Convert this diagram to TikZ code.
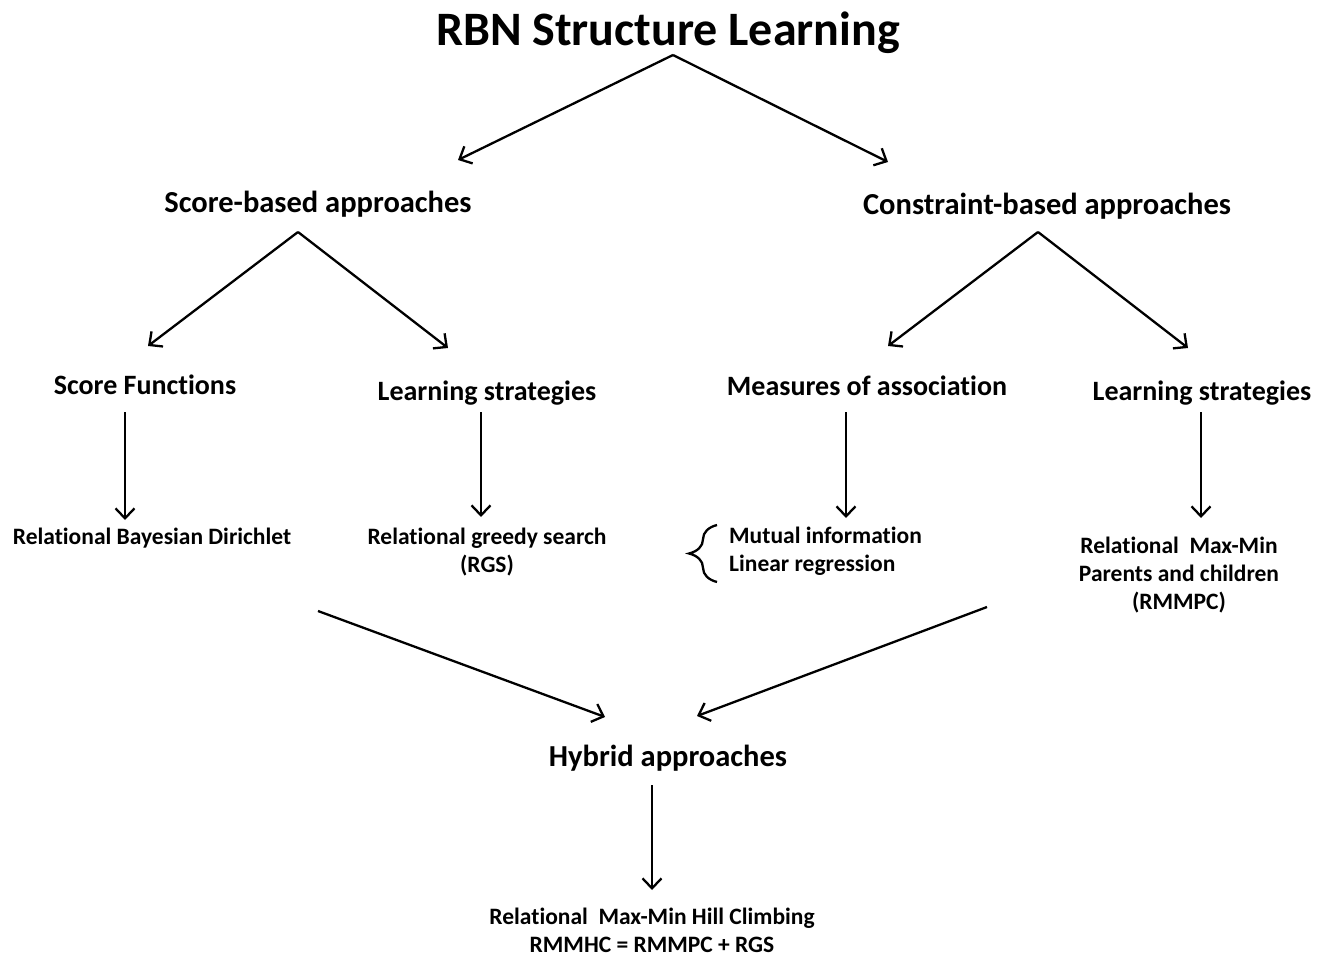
\documentclass[tikz,border=0pt]{standalone}
\usepackage{fontspec}
\setmainfont{Carlito}[Ligatures=NoCommon]
\usetikzlibrary{arrows.meta,decorations.pathreplacing}

\begin{document}
\begin{tikzpicture}[x=1pt,y=-1pt,
   arr/.style={line width=2.3pt, -{Straight Barb[length=10pt,width=19pt,line width=2.3pt]}},
   ttl/.style={inner sep=0pt, font=\fontsize{48}{54}\selectfont\bfseries},
   lvla/.style={inner sep=0pt, font=\fontsize{30.5}{34}\selectfont\bfseries},
   lvlb/.style={inner sep=0pt, font=\fontsize{28}{32}\selectfont\bfseries},
   lvlc/.style={inner sep=0pt, align=center, font=\fontsize{23.5}{28}\selectfont\bfseries}]

   \useasboundingbox (0,0) rectangle (1325,957);

% titre et approches
   \node[ttl] (title) at (668,33) {RBN Structure Learning};
   \node[lvla] (score) at (318,204) {Score-based approaches};
   \node[lvla] (constr) at (1047,206) {Constraint-based approaches};
   \node[lvla] (hybrid) at (668,758) {Hybrid approaches};

% second niveau
   \node[lvlb] (sfun) at (145,385) {Score Functions};
   \node[lvlb] (lstrA) at (487,393) {Learning strategies};
   \node[lvlb] (meas) at (867,386) {Measures of association};
   \node[lvlb] (lstrB) at (1202,393) {Learning strategies};

% feuilles
   \node[lvlc] (rbd) at (152,538) {Relational Bayesian Dirichlet};
   \node[lvlc] (rgs) at (487,552) {Relational greedy search\\(RGS)};
   \node[lvlc, align=left, anchor=west] (mi) at (729,551) {Mutual information\\Linear regression};
   \node[lvlc] (rmmpc) at (1179,575) {Relational~ Max-Min\\Parents and children\\(RMMPC)};
   \node[lvlc] (rmmhc) at (652,930) {Relational~ Max-Min Hill Climbing\\RMMHC = RMMPC + RGS};

   \draw[line width=2.3pt, decorate, decoration={brace, amplitude=28pt}]
      ([shift={(-12,31)}]mi.west) -- ([shift={(-12,-26)}]mi.west);

% fleches
   \draw[arr] ([shift={(5,22)}]title.center) -- ([shift={(140,-44)}]score.center);
   \draw[arr] ([shift={(5,22)}]title.center) -- ([shift={(-159,-44)}]constr.center);
   \draw[arr] ([shift={(-20,28)}]score.center) -- ([shift={(3,-39)}]sfun.center);
   \draw[arr] ([shift={(-20,28)}]score.center) -- ([shift={(-39,-45)}]lstrA.center);
   \draw[arr] ([shift={(-9,26)}]constr.center) -- ([shift={(21,-40)}]meas.center);
   \draw[arr] ([shift={(-9,26)}]constr.center) -- ([shift={(-14,-45)}]lstrB.center);
   \draw[arr] ([shift={(-20,27)}]sfun.center) -- ([shift={(-27,-18)}]rbd.center);
   \draw[arr] ([shift={(-6,19)}]lstrA.center) -- ([shift={(-6,-35)}]rgs.center);
   \draw[arr] ([shift={(-21,26)}]meas.center) -- ([shift={(117,-33)}]mi.west);
   \draw[arr] ([shift={(-1,19)}]lstrB.center) -- ([shift={(22,-57)}]rmmpc.center);
   \draw[arr] ([shift={(166,73)}]rbd.center) -- ([shift={(-63,-41)}]hybrid.center);
   \draw[arr] ([shift={(-192,32)}]rmmpc.center) -- ([shift={(29,-42)}]hybrid.center);
   \draw[arr] ([shift={(-16,27)}]hybrid.center) -- ([shift={(0,-40)}]rmmhc.center);

 \end{tikzpicture}
\end{document}
